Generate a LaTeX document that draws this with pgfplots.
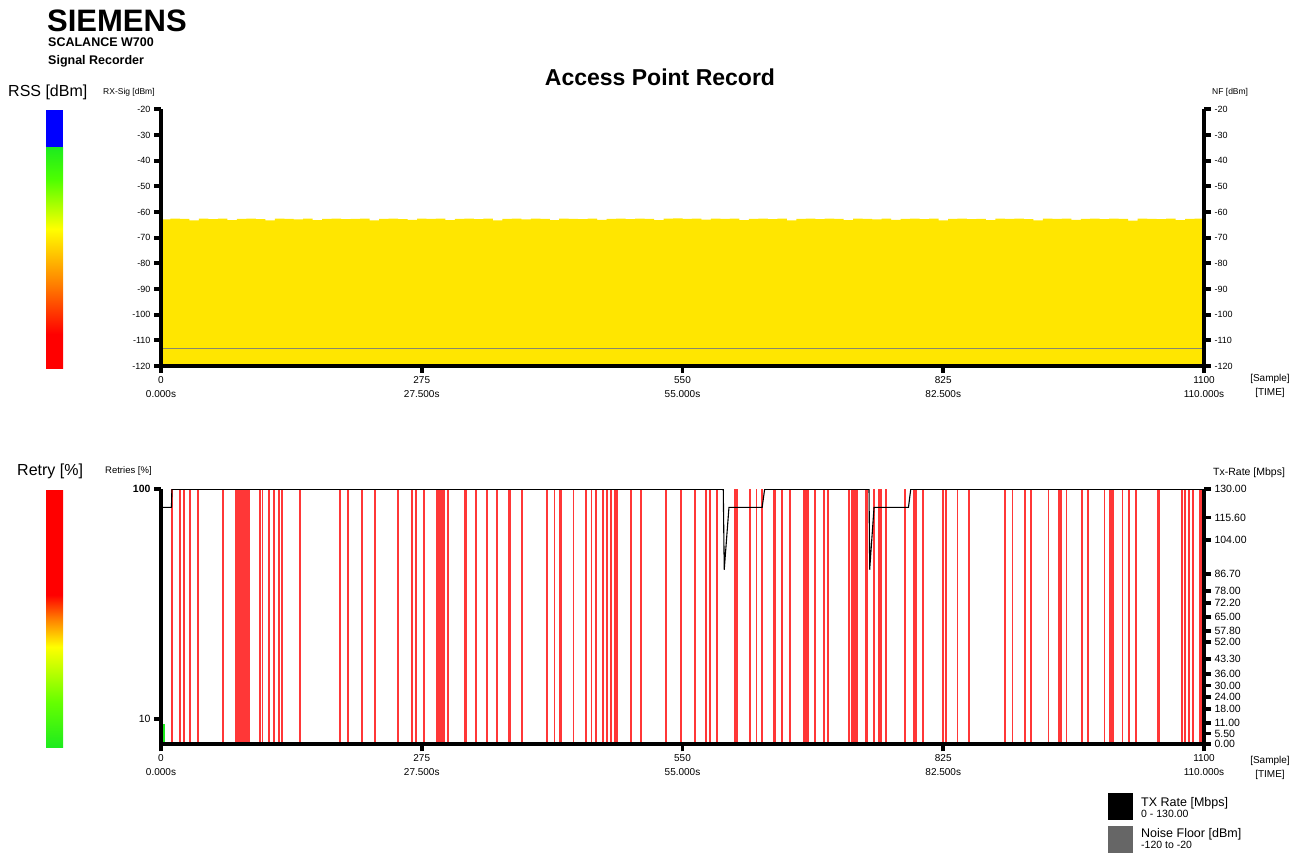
\documentclass[border=0pt]{standalone}
\usepackage{fontspec}
\setmainfont{Liberation Sans}
\usepackage{pgfplots}
\pgfplotsset{compat=1.18}

\definecolor{rsyellow}{RGB}{255,230,0}
\definecolor{nfgray}{RGB}{135,135,110}
\definecolor{retred}{RGB}{255,20,20}
\definecolor{lgreen}{RGB}{30,235,30}
\definecolor{lblue}{RGB}{0,0,255}
\definecolor{legray}{RGB}{102,102,102}

\pgfdeclareverticalshading{rssbar}{100bp}{color(0bp)=(red); color(25bp)=(red); color(32.9bp)=(red); color(44.2bp)=(orange); color(56.7bp)=(yellow); color(68bp)=(green!70!yellow); color(75bp)=(lgreen); color(100bp)=(lgreen)}
\pgfdeclareverticalshading{retrybar}{100bp}{color(0bp)=(lgreen); color(25bp)=(lgreen); color(33.8bp)=(green!60!yellow); color(44.5bp)=(yellow); color(49.9bp)=(orange); color(54.6bp)=(red); color(75bp)=(red); color(100bp)=(red)}

\pgfplotsset{
  recstyle/.style={
    scale only axis, width=1043pt,
    xmin=0, xmax=1100,
    axis line style={draw=none},
    clip mode=individual,
    tick align=outside,
    major tick length=7pt,
    tick style={line width=3.8pt, black},
    xtick={0,275,550,825,1100},
    xtick pos=bottom,
    xticklabels={{0\\0.000s},{275\\27.500s},{550\\55.000s},{825\\82.500s},{1100\\110.000s}},
    xticklabel style={align=center, font=\fontsize{10}{13.5}\selectfont},
  }
}

\begin{document}
\begin{tikzpicture}[x=1pt,y=1pt]
\useasboundingbox (0,0) rectangle (1305,852);

% header
\node[anchor=base west, inner sep=0, font=\bfseries\fontsize{31}{32}\selectfont] at (47,820) {SIEMENS};
\node[anchor=base west, inner sep=0, font=\bfseries\fontsize{12.5}{13}\selectfont] at (48,805) {SCALANCE W700};
\node[anchor=base west, inner sep=0, font=\bfseries\fontsize{12.5}{13}\selectfont] at (48,787) {Signal Recorder};
\node[anchor=base, inner sep=0, font=\bfseries\fontsize{23}{24}\selectfont] at (660,766) {Access Point Record};

% colour bars
\node[anchor=base west, inner sep=0, font=\fontsize{16}{17}\selectfont] at (8,755) {RSS [dBm]};
\fill[lblue] (46,704) rectangle (63,742);
\shade[shading=rssbar] (46,483) rectangle (63,704);
\node[anchor=base west, inner sep=0, font=\fontsize{16}{17}\selectfont] at (17,377) {Retry [\%]};
\shade[shading=retrybar] (46,105) rectangle (63,362);

% axis captions
\node[anchor=base west, inner sep=0, font=\fontsize{8.5}{9}\selectfont] at (103,757) {RX-Sig [dBm]};
\node[anchor=base west, inner sep=0, font=\fontsize{8.5}{9}\selectfont] at (1212,757) {NF [dBm]};
\node[anchor=base west, inner sep=0, font=\fontsize{9.5}{10}\selectfont] at (105,378) {Retries [\%]};
\node[anchor=base west, inner sep=0, font=\fontsize{10.5}{11}\selectfont] at (1213,377) {Tx-Rate [Mbps]};
\node[align=center, inner sep=0, font=\fontsize{10}{13.5}\selectfont] at (1270,466) {{[Sample]}\\{[TIME]}};
\node[align=center, inner sep=0, font=\fontsize{10}{13.5}\selectfont] at (1270,84) {{[Sample]}\\{[TIME]}};

% ---------------- top plot ----------------
\begin{axis}[recstyle, at={(161pt,486pt)}, anchor=south west, height=256.7pt,
  ymin=-120, ymax=-20,
  ytick={-120,-110,-100,-90,-80,-70,-60,-50,-40,-30,-20},
  yticklabels={-120,-110,-100,-90,-80,-70,-60,-50,-40,-30,-20},
  ytick pos=left,
  yticklabel style={font=\fontsize{9}{9}\selectfont},
]
\addplot[const plot, fill=rsyellow, draw=none] coordinates {
(0,-120) (0,-62.9) (10,-62.6) (20,-62.7) (30,-63.3) (40,-62.6) (50,-62.8) (60,-62.6) (70,-63.2) (80,-62.7) (90,-62.6)
(100,-62.8) (110,-63.3) (120,-62.6) (130,-62.7) (140,-62.9) (150,-62.6) (160,-63.2) (170,-62.7) (180,-62.6) (190,-62.8)
(200,-62.7) (210,-62.6) (220,-63.3) (230,-62.7) (240,-62.6) (250,-62.8) (260,-63.1) (270,-62.6) (280,-62.7) (290,-62.6)
(300,-63.2) (310,-62.7) (320,-62.6) (330,-62.8) (340,-62.6) (350,-63.3) (360,-62.7) (370,-62.6) (380,-62.9) (390,-62.6)
(400,-62.7) (410,-63.2) (420,-62.6) (430,-62.7) (440,-62.8) (450,-62.6) (460,-63.1) (470,-62.7) (480,-62.6) (490,-62.8)
(500,-62.6) (510,-62.7) (520,-63.2) (530,-62.6) (540,-62.5) (550,-62.7) (560,-62.6) (570,-63.0) (580,-62.6) (590,-62.7)
(600,-62.6) (610,-63.2) (620,-62.7) (630,-62.6) (640,-62.8) (650,-62.6) (660,-63.3) (670,-62.7) (680,-62.6) (690,-62.8)
(700,-62.6) (710,-62.7) (720,-63.2) (730,-62.6) (740,-62.7) (750,-62.9) (760,-62.6) (770,-63.1) (780,-62.7) (790,-62.6)
(800,-62.8) (810,-62.6) (820,-63.3) (830,-62.7) (840,-62.6) (850,-62.8) (860,-62.7) (870,-63.2) (880,-62.6) (890,-62.7)
(900,-62.6) (910,-62.8) (920,-63.3) (930,-62.6) (940,-62.7) (950,-62.6) (960,-63.1) (970,-62.7) (980,-62.6) (990,-62.8)
(1000,-62.6) (1010,-62.7) (1020,-63.4) (1030,-62.6) (1040,-62.7) (1050,-62.8) (1060,-62.6) (1070,-63.2) (1080,-62.7) (1090,-62.6)
(1100,-62.6) (1100,-120)
};
\addplot[nfgray, line width=1.4pt] coordinates {(0,-113.3) (1100,-113.3)};
\draw[line width=4pt, line join=miter] (rel axis cs:0,1) -- (rel axis cs:0,0) -- (rel axis cs:1,0) -- (rel axis cs:1,1);
\end{axis}
\begin{axis}[recstyle, at={(161pt,486pt)}, anchor=south west, height=256.7pt,
  ymin=-120, ymax=-20,
  xtick=\empty,
  ytick={-120,-110,-100,-90,-80,-70,-60,-50,-40,-30,-20},
  yticklabels={-120,-110,-100,-90,-80,-70,-60,-50,-40,-30,-20},
  ytick pos=right, yticklabel pos=right,
  yticklabel style={font=\fontsize{9}{9}\selectfont},
]
\end{axis}

% ---------------- bottom plot ----------------
\begin{axis}[recstyle, at={(161pt,107.7pt)}, anchor=south west, height=255pt,
  ymin=0, ymax=130,
  ytick={13,130},
  yticklabels={10,\textbf{100}},
  ytick pos=left,
  yticklabel style={font=\fontsize{10.5}{11}\selectfont},
]
\addplot[ycomb, draw=retred, opacity=0.85, line width=1.9pt] coordinates {
(12,130) (20,130) (24,130) (31,130) (39,130) (65,130) (79,130) (80,130) (81,130) (82,130) (83,130) (84,130)
(86,130) (88,130) (90,130) (92,130) (93,130) (104,130) (107,130) (114,130) (119,130) (124,130) (128,130)
(147,130) (189,130) (197,130) (212,130) (226,130) (250,130) (265,130) (269,130) (277,130) (291,130) (293,130)
(295,130) (297,130) (298,130) (303,130) (321,130) (322,130) (332,130) (344,130) (354,130)
(367,130) (368,130) (381,130) (407,130) (415,130) (421,130) (422,130) (435,130) (448,130) (454,130) (459,130)
(466,130) (470,130) (475,130) (479,130) (480,130) (481,130) (496,130) (506,130) (533,130) (548,130) (563,130)
(575,130) (579,130) (586,130) (605,130) (606,130) (607,130) (621,130) (628,130) (634,130) (646,130) (647,130)
(648,130) (655,130) (663,130) (678,130) (680,130) (682,130) (690,130) (699,130) (703,130) (726,130) (729,130)
(731,130) (733,130) (734,130) (743,130) (745,130) (752,130) (757,130) (758,130) (759,130) (765,130) (785,130)
(794,130) (796,130) (804,130) (825,130) (828,130) (840,130) (852,130) (890,130) (898,130) (911,130) (918,130)
(936,130) (947,130) (948,130) (949,130) (955,130) (971,130) (978,130) (995,130) (1001,130) (1002,130) (1004,130)
(1014,130) (1021,130) (1028,130) (1051,130) (1052,130) (1053,130) (1077,130) (1080,130) (1084,130) (1088,130)
(1096,130) (1097,130) (1098,130) (1099,130)
};
\addplot[ycomb, draw=lgreen, line width=2.5pt] coordinates {(2.5,10.5)};
\addplot[black, line width=1.1pt] coordinates {
(0,120.8) (11,120.8) (11.5,130) (593,130) (594,89) (599,120.8) (634,120.8) (636.6,130)
(746.7,130) (747.4,89) (752,120.8) (788.3,120.8) (790.7,130) (1100,130)
};
\draw[line width=4pt, line join=miter] (rel axis cs:0,1) -- (rel axis cs:0,0) -- (rel axis cs:1,0) -- (rel axis cs:1,1);
\end{axis}
\begin{axis}[recstyle, at={(161pt,107.7pt)}, anchor=south west, height=255pt,
  ymin=0, ymax=130,
  xtick=\empty,
  ytick={0,5.5,11,18,24,30,36,43.3,52,57.8,65,72.2,78,86.7,104,115.6,130},
  yticklabels={0.00,5.50,11.00,18.00,24.00,30.00,36.00,43.30,52.00,57.80,65.00,72.20,78.00,86.70,104.00,115.60,130.00},
  ytick pos=right, yticklabel pos=right,
  yticklabel style={font=\fontsize{10.5}{11}\selectfont},
]
\end{axis}

% legend
\fill[black] (1108,32) rectangle (1133,59);
\node[anchor=base west, inner sep=0, font=\fontsize{12.5}{13}\selectfont] at (1141,46) {TX Rate [Mbps]};
\node[anchor=base west, inner sep=0, font=\fontsize{10.5}{11}\selectfont] at (1141,35) {0 - 130.00};
\fill[legray] (1108,-2) rectangle (1133,26);
\node[anchor=base west, inner sep=0, font=\fontsize{12.5}{13}\selectfont] at (1141,15) {Noise Floor [dBm]};
\node[anchor=base west, inner sep=0, font=\fontsize{10.5}{11}\selectfont] at (1141,4) {-120 to -20};
\end{tikzpicture}
\end{document}
